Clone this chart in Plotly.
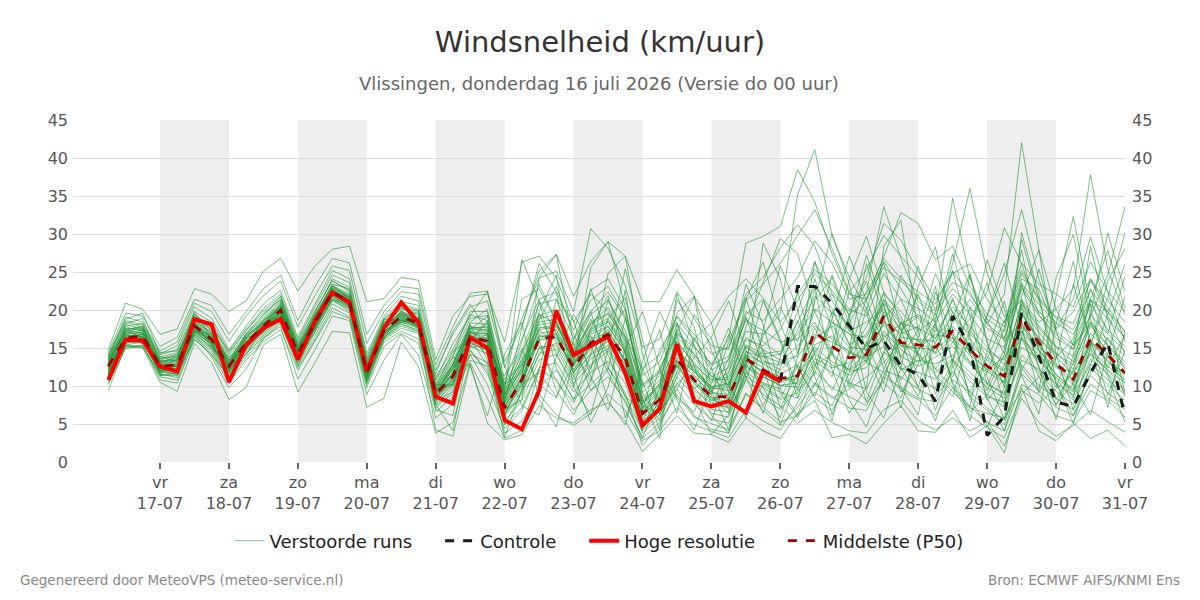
import pandas as pd
import plotly.graph_objects as go

# ---------------- data ----------------
tijden = pd.date_range("2026-07-16 06:00", periods=60, freq="6h")

hoge_resolutie = [10.8, 16.1, 16.0, 12.6, 11.9, 18.8, 18.1, 10.5, 15.4, 17.6,
                  18.8, 13.5, 18.6, 22.3, 21.0, 11.9, 17.6, 21.0, 18.4, 8.6,
                  7.7, 16.4, 15.0, 5.5, 4.3, 9.4, 19.9, 14.1, 15.3, 16.5,
                  11.7, 4.8, 7.0, 15.5, 8.0, 7.3, 8.0, 6.5, 11.9, 10.6]

controle = [None] * 39 + [10.6, 23.1, 23.1, 20.9, 17.9, 14.9, 16.0, 12.6, 11.5, 8.0,
                          19.2, 15.2, 3.5, 6.0, 19.6, 13.9, 7.9, 7.3, 11.7, 15.7, 6.0]

middelste = [12.6, 16.3, 16.6, 12.6, 12.8, 17.9, 16.1, 12.6, 15.7, 17.8,
             20.0, 14.3, 18.4, 22.4, 21.0, 11.8, 17.3, 19.1, 18.3, 8.9,
             11.3, 16.4, 15.9, 7.1, 10.8, 16.2, 16.5, 12.4, 15.7, 16.8,
             13.7, 6.4, 8.2, 13.5, 10.8, 8.6, 8.6, 13.6, 12.1, 11.0,
             11.3, 17.1, 15.2, 13.7, 14.1, 19.2, 15.7, 15.4, 15.1, 17.2,
             14.8, 12.6, 11.3, 18.9, 15.7, 13.0, 10.9, 16.3, 14.1, 11.7]

m01 = [13.5,18.2,18.9,13.1,13.8,19.5,17.2,13.4,16.9,19.2,21.8,15.1,19.6,24.1,23.0,13.2,18.4,20.3,19.8,9.6,
       12.8,17.9,17.2,8.3,12.5,18.9,19.4,14.1,18.2,20.3,16.1,7.9,10.2,15.8,13.1,10.4,11.8,17.2,16.8,19.5,
       35.2,41.1,29.8,24.3,20.1,26.4,22.8,18.9,16.2,21.3,17.4,13.8,12.1,19.6,16.3,14.2,12.8,18.5,15.3,12.7]
m02 = [10.2,14.9,15.3,11.2,10.8,16.4,14.5,10.9,13.8,16.1,18.2,12.4,16.1,20.3,19.1,10.2,15.8,17.2,16.2,7.1,
       9.4,14.2,13.1,5.3,8.1,13.4,14.2,10.3,12.8,14.6,11.2,4.1,6.3,11.2,8.7,6.4,5.9,11.3,9.8,8.2,
       9.1,13.2,11.8,10.4,9.6,14.5,12.3,11.8,10.9,13.4,11.2,8.9,7.2,14.1,11.8,9.3,7.6,12.4,10.2,8.1]
m03 = [14.8,20.9,20.1,16.8,17.5,22.8,22.1,19.8,21.2,25.1,26.8,22.5,25.8,28.0,28.4,21.1,21.5,24.3,23.9,13.5,
       19.2,21.8,22.1,15.8,26.3,27.1,24.2,18.4,22.1,19.8,16.5,12.3,14.1,19.2,16.8,14.2,15.1,21.2,23.4,26.1,
       29.8,33.2,28.1,22.4,25.3,29.8,27.1,24.3,20.1,23.6,22.4,18.1,16.3,24.1,22.8,17.2,15.4,21.3,19.8,16.2]
m04 = [11.8,15.6,16.1,12.1,12.2,17.2,15.4,11.8,15.1,17.1,19.2,13.6,17.8,21.6,20.2,11.1,16.8,18.4,17.6,8.1,
       10.1,15.6,14.8,6.2,9.4,15.1,15.3,11.2,14.3,15.9,12.8,5.4,7.3,12.6,9.8,7.2,7.4,12.5,11.2,10.1,
       10.4,21.2,24.3,18.2,13.1,11.8,9.4,8.2,6.1,9.8,7.3,5.2,4.1,10.2,8.9,6.1,5.3,9.4,8.1,5.9]
m05 = [9.4,15.2,15.0,10.5,9.3,15.6,13.1,8.2,9.8,15.4,16.8,9.2,13.1,17.2,17.0,7.2,8.4,15.8,12.6,3.8,
       5.2,13.1,8.4,3.1,4.2,9.8,12.1,8.3,10.2,12.4,9.1,2.2,4.8,9.6,6.1,4.3,3.8,8.9,7.2,5.3,
       6.1,9.2,7.4,12.8,15.3,18.9,21.4,16.2,12.3,9.8,6.1,4.5,3.2,8.9,11.2,13.8,16.2,24.1,19.3,14.2]
m06 = [13.1,17.4,17.8,13.4,14.1,18.9,17.4,13.9,16.8,18.9,21.2,15.3,19.4,23.2,22.1,12.9,18.1,20.4,19.2,10.1,
       13.2,18.3,18.1,9.2,13.4,19.2,20.1,15.3,19.8,22.4,18.9,10.2,12.1,17.4,14.2,11.3,10.1,15.2,13.4,12.1,
       14.3,19.8,22.1,17.3,15.2,22.4,19.1,14.3,12.2,15.8,13.1,10.2,9.1,16.4,13.2,11.1,9.2,14.3,12.1,10.4]
m07 = [12.2,16.8,17.1,12.9,13.2,18.2,16.4,12.1,15.9,17.6,19.4,14.1,18.1,22.1,21.4,11.5,17.5,19.4,18.9,8.4,
       11.8,16.1,16.4,7.8,11.6,17.3,15.8,12.9,17.1,18.4,14.9,7.2,9.4,14.8,12.1,9.3,8.2,14.5,13.8,14.2,
       18.4,23.1,20.2,15.4,16.8,21.3,17.2,15.9,14.3,19.8,16.3,12.8,10.4,20.3,17.1,14.3,12.2,17.9,15.3,13.2]
m08 = [14.2,18.8,19.6,14.2,15.3,20.4,18.9,14.8,17.9,20.8,22.6,16.4,20.8,25.2,24.1,14.3,19.2,21.8,21.2,11.2,
       14.8,19.4,18.6,10.2,14.6,20.8,21.4,16.2,21.3,23.1,19.2,9.8,11.8,18.2,15.3,12.1,13.4,18.6,17.3,15.8,
       16.2,18.4,14.3,12.1,13.4,17.2,14.8,13.1,15.2,18.3,21.4,18.2,22.1,42.0,27.9,20.1,15.3,18.2,14.1,10.3]
m09 = [11.2,16.0,16.2,11.8,11.9,17.5,15.6,11.6,14.9,17.4,19.6,13.2,17.4,21.8,20.4,10.6,16.6,18.6,17.8,7.8,
       10.4,15.1,15.3,6.4,10.2,16.1,16.9,11.6,15.4,16.2,12.4,5.1,6.9,12.9,9.4,7.8,7.1,12.8,10.3,9.2,
       8.4,12.8,14.1,11.9,12.4,16.8,13.9,12.6,13.8,15.2,12.9,10.4,8.8,15.1,13.6,10.8,8.1,13.5,11.6,9.2]
m10 = [12.9,17.0,16.9,13.0,13.5,18.4,16.8,13.1,16.2,18.4,20.8,14.8,19.1,22.9,21.6,12.4,17.8,19.6,18.6,9.3,
       12.1,17.2,16.8,8.8,12.1,17.8,17.4,13.4,16.8,17.9,14.5,7.1,9.1,14.2,11.8,9.6,9.8,14.6,12.9,11.6,
       12.8,16.2,17.9,15.1,14.8,19.8,16.4,16.1,15.9,17.8,15.4,13.4,11.9,19.4,16.2,13.8,11.5,16.9,14.8,12.3]
m11 = [10.8,15.4,15.8,11.6,11.1,16.8,13.8,9.8,12.2,16.4,17.8,10.9,14.8,19.2,18.6,8.9,13.4,16.8,14.1,5.8,
       7.6,14.1,10.2,4.4,6.8,12.1,10.9,6.8,9.4,11.2,8.1,3.1,5.2,8.9,5.9,5.1,4.2,9.1,6.8,4.8,
       7.2,10.4,8.6,7.1,6.8,11.2,9.8,8.4,7.9,10.8,9.2,7.1,5.6,11.6,9.4,7.2,6.1,10.3,8.4,6.9]
m12 = [13.8,19.1,18.4,14.6,15.8,20.9,19.8,15.9,19.2,21.9,23.8,17.8,21.9,25.8,25.2,15.6,19.8,22.4,22.1,12.1,
       16.8,20.4,21.2,12.4,18.9,24.2,25.1,19.8,30.7,28.1,23.2,15.1,16.2,22.4,18.9,15.3,14.8,22.1,24.3,28.2,
       31.2,28.4,22.1,19.8,24.3,31.4,29.2,25.1,21.3,24.8,26.1,21.4,18.3,25.2,21.6,19.1,18.2,23.8,21.3,18.4]
m13 = [12.4,16.5,16.8,12.4,12.6,17.8,15.9,12.4,15.5,17.5,19.9,14.0,18.2,22.2,20.8,11.7,17.1,18.9,18.1,8.7,
       11.1,16.8,15.4,7.3,10.6,16.4,16.9,12.1,15.2,17.4,13.1,6.1,8.4,13.2,10.3,8.1,8.8,13.9,11.5,10.4,
       11.6,15.1,13.2,12.2,14.4,18.1,15.2,14.9,16.8,16.3,13.2,11.9,10.4,17.8,15.2,12.6,10.1,15.9,13.4,11.1]
m14 = [11.5,15.9,15.6,12.3,12.0,16.9,15.1,12.2,14.6,16.8,18.9,13.6,17.2,21.2,20.1,11.2,16.4,18.1,17.4,8.2,
       10.6,15.8,14.6,6.8,9.8,14.9,15.6,11.9,14.1,15.3,12.9,6.2,8.9,13.8,11.9,9.8,10.2,15.1,13.9,13.1,
       15.3,17.9,16.2,14.1,17.8,22.1,19.8,17.2,18.9,26.1,36.0,24.8,19.1,21.3,18.4,20.1,22.8,37.8,25.3,19.4]
m15 = [13.4,17.9,18.2,13.6,13.9,19.1,17.9,14.2,17.4,19.6,21.4,15.8,19.9,23.8,22.6,13.4,18.6,20.8,20.1,10.4,
       13.8,18.9,19.3,9.6,14.1,19.4,18.2,14.6,18.4,19.6,15.8,8.1,10.1,15.9,12.8,10.8,11.2,16.4,14.8,13.4,
       13.9,16.8,15.8,14.6,13.2,18.4,16.9,17.8,14.2,16.4,14.1,12.2,13.8,17.2,14.6,12.4,11.9,15.8,13.2,11.6]
m16 = [12.0,16.2,16.4,12.2,12.4,17.6,15.8,12.9,16.1,17.9,20.1,14.6,18.6,22.6,21.2,12.2,17.9,19.2,18.4,9.1,
       12.4,17.1,16.2,9.8,21.4,22.8,18.4,13.1,16.2,17.8,14.6,5.2,7.8,16.4,14.2,11.2,12.4,18.9,15.8,14.1,
       19.8,26.4,21.3,17.2,18.4,20.1,17.4,19.2,17.1,20.4,17.8,15.1,12.8,21.1,17.9,15.2,13.9,19.4,16.8,14.6]
m17 = [10.4,15.1,15.4,10.8,10.4,16.1,14.2,10.4,13.4,15.8,17.4,12.1,15.9,19.8,18.9,9.8,15.2,16.9,15.6,6.6,
       8.6,13.4,12.6,4.9,7.2,12.4,13.1,9.2,11.8,13.2,10.4,3.8,5.8,10.4,7.6,5.6,5.1,10.8,8.9,7.4,
       5.1,6.8,5.2,4.1,3.8,6.9,8.1,5.4,4.2,5.8,4.1,5.3,2.1,8.4,5.2,3.4,4.8,6.8,5.3,3.9]
m18 = [13.2,17.6,17.4,13.8,14.4,18.6,17.1,13.6,16.5,18.8,20.6,15.4,19.2,23.4,22.8,13.0,18.3,20.1,19.6,9.8,
       12.9,17.6,17.8,8.4,13.1,18.4,18.8,14.9,19.4,21.2,17.3,9.1,11.4,17.1,13.8,10.9,10.8,16.1,15.3,17.4,
       22.1,25.3,23.4,20.1,19.2,24.8,21.4,20.2,18.4,22.1,19.4,16.2,15.1,22.8,19.3,16.8,14.9,20.8,17.4,15.1]
m19 = [11.6,16.4,16.0,12.5,12.9,17.4,16.0,12.6,15.8,17.2,19.5,13.9,18.0,21.9,20.6,11.4,16.9,18.8,18.0,8.5,
       10.9,16.3,15.6,7.6,11.2,16.6,16.2,12.6,15.8,16.6,13.4,6.8,8.1,13.4,10.6,8.4,7.9,13.2,11.9,11.3,
       10.2,14.3,18.4,16.9,13.8,15.2,12.1,13.4,12.9,14.1,11.8,9.8,8.4,16.2,14.1,11.6,9.4,14.8,12.6,10.8]
m20 = [12.7,16.9,17.4,12.8,13.4,18.1,16.6,12.8,15.6,18.1,20.4,14.4,18.8,22.8,21.8,12.1,17.6,19.8,18.7,9.0,
       11.6,16.9,16.6,7.9,11.9,17.6,18.1,13.8,17.6,18.9,15.4,7.8,9.9,14.9,12.4,9.8,9.4,14.1,13.1,12.8,
       17.4,21.8,19.6,18.3,22.4,33.6,26.8,21.1,19.4,34.7,24.2,18.6,14.2,23.1,19.8,17.4,19.8,24.1,20.3,17.1]
m21 = [11.0,15.3,15.1,11.4,11.4,16.6,14.8,11.1,14.2,16.6,18.6,12.8,16.6,20.8,19.6,10.4,16.1,17.6,16.9,7.5,
       8.9,14.6,12.1,3.8,5.4,8.9,6.2,4.8,6.4,8.9,6.8,2.8,4.1,7.2,4.9,4.1,3.2,6.8,5.4,4.2,
       7.8,11.9,9.8,8.6,7.4,12.1,11.2,9.6,8.4,11.9,8.6,6.8,4.9,12.8,10.1,8.4,6.9,11.4,9.1,7.4]
m22 = [14.0,18.4,17.8,14.1,14.8,19.8,18.4,14.4,17.2,20.2,22.1,16.1,20.4,24.6,23.6,13.9,18.9,21.1,20.6,10.8,
       14.1,19.8,19.8,10.8,16.2,21.4,22.4,17.4,22.6,24.1,20.1,11.4,13.2,19.1,16.1,12.8,13.9,19.8,18.6,21.4,
       24.3,29.1,26.2,21.4,22.1,26.8,24.1,22.4,20.8,25.1,21.9,18.8,17.2,24.8,21.3,18.9,17.4,22.6,19.8,17.2]
m23 = [12.3,16.6,16.5,12.7,12.9,17.9,16.3,12.7,15.8,17.9,20.2,14.5,18.5,22.5,21.2,11.9,17.4,19.3,18.5,9.0,
       11.4,16.6,16.1,7.4,11.1,16.9,17.3,12.7,16.1,17.1,14.1,6.9,8.6,13.6,11.2,9.1,8.9,13.8,12.4,10.8,
       11.4,14.2,12.8,11.4,13.1,16.4,18.2,19.4,17.6,15.8,18.9,22.4,30.8,26.1,19.4,16.3,14.8,19.2,24.6,33.6]
m24 = [10.6,15.6,16.3,11.5,11.6,16.2,14.1,11.4,14.4,16.3,18.4,13.1,17.1,21.4,19.8,10.8,16.2,17.9,17.1,7.6,
       9.8,15.3,14.2,6.1,8.9,14.3,14.8,10.8,13.6,14.9,11.8,4.6,6.8,11.9,9.1,6.9,6.6,11.8,10.4,9.6,
       12.8,10.2,8.4,9.6,11.2,13.1,15.8,14.2,11.4,9.2,7.1,6.4,5.8,9.4,7.8,9.6,11.8,14.2,12.1,9.4]
m25 = [13.6,17.2,17.6,13.2,13.6,19.2,17.6,13.2,16.4,18.6,21.1,15.1,19.3,23.1,21.9,12.6,17.9,20.2,19.4,9.5,
       12.6,17.4,17.4,8.9,12.8,18.1,18.4,14.2,18.1,19.4,16.4,8.4,10.8,16.9,15.1,12.9,16.2,28.8,29.7,31.0,
       38.5,34.2,27.4,22.1,21.4,25.6,23.8,21.6,19.8,22.8,20.4,17.6,16.1,23.4,20.8,18.3,16.8,21.4,18.8,16.4]
m26 = [12.5,16.1,16.3,12.5,12.3,17.7,15.7,12.3,15.3,17.6,19.7,14.2,18.3,22.1,20.9,11.6,17.2,18.9,18.2,8.6,
       11.0,16.2,15.2,7.0,10.4,16.0,16.4,12.2,15.4,16.5,13.6,6.1,8.0,13.3,10.7,8.5,8.4,13.4,11.9,10.8,
       10.9,15.4,16.6,14.4,13.6,18.6,15.3,15.1,14.6,16.8,14.4,12.1,11.1,18.1,15.4,12.8,10.6,15.9,13.8,11.5]
m27 = [14.4,19.6,19.2,15.2,16.4,21.4,20.6,16.8,19.8,22.8,24.6,18.6,23.1,26.8,26.2,16.8,20.6,23.1,22.8,12.8,
       17.8,22.2,22.5,13.2,17.9,25.1,27.3,21.8,26.4,29.0,27.1,21.1,21.1,25.3,21.8,18.3,21.8,24.1,21.6,18.4,
       21.3,24.8,22.6,19.4,21.3,27.1,32.8,31.4,26.6,28.4,23.1,19.4,17.8,26.2,23.4,22.1,20.4,26.3,22.4,19.8]
m28 = [11.4,15.8,15.9,11.9,11.6,17.1,14.9,11.9,14.8,17.0,18.8,13.4,17.6,21.4,20.3,10.9,16.4,18.2,17.2,4.2,
       3.4,12.9,5.1,2.9,3.6,7.4,5.8,5.1,6.9,7.8,5.4,1.4,3.6,6.1,3.8,3.6,2.6,5.8,4.1,3.1,
       6.4,8.1,3.2,3.6,2.4,5.1,7.4,4.1,3.9,6.8,3.2,4.8,1.2,9.8,4.1,2.8,5.1,3.1,4.2,2.1]
m29 = [13.0,17.3,17.0,13.3,13.3,18.5,16.9,13.3,16.6,18.3,20.6,14.9,18.9,22.7,21.4,12.3,17.7,19.7,18.8,9.4,
       12.3,17.0,16.9,8.1,12.4,17.4,17.9,13.6,17.4,18.6,15.1,7.6,9.6,14.6,12.1,9.9,10.4,15.4,14.2,14.6,
       16.8,20.1,18.4,16.8,16.4,20.9,18.2,17.6,16.3,19.1,16.9,14.6,13.4,20.8,17.6,15.1,13.2,18.3,16.1,13.9]
m30 = [11.9,16.6,16.7,12.0,12.1,17.3,15.3,12.0,15.0,17.3,19.3,13.8,17.9,22.0,20.7,11.3,16.7,18.7,17.9,8.3,
       10.8,15.9,15.9,7.2,10.9,16.6,16.6,11.8,14.9,16.4,13.2,5.8,7.6,12.9,10.4,8.2,7.6,12.9,11.2,10.1,
       9.8,13.6,12.4,13.1,15.6,21.4,18.6,13.9,11.8,13.6,10.6,8.6,7.9,13.4,12.2,10.3,8.8,12.9,10.8,8.9]
m31 = [12.1,17.8,17.2,12.9,12.6,18.8,16.9,12.2,16.3,18.2,20.4,14.8,18.9,23.1,21.6,12.8,16.2,19.9,18.8,10.2,
       10.2,18.4,20.1,9.4,26.6,21.3,12.4,8.1,14.2,24.8,27.1,14.3,6.2,11.8,19.4,16.2,9.1,21.4,26.3,18.2,
       12.4,8.6,15.2,24.1,29.7,22.3,13.4,9.8,18.6,27.4,19.1,10.2,14.8,29.3,21.4,13.1,8.4,19.6,30.1,22.4]
m32 = [13.3,16.9,16.1,13.6,14.2,17.6,15.8,13.8,15.2,17.6,20.9,13.9,18.6,21.9,21.8,11.2,18.4,18.3,19.1,7.6,
       4.1,16.1,18.6,6.8,8.2,24.3,27.3,15.6,9.4,12.1,22.6,8.4,3.1,17.2,21.8,9.4,4.2,12.3,28.8,24.1,
       14.2,22.8,12.1,6.4,9.8,28.4,31.8,17.2,8.9,13.2,24.6,16.1,7.4,21.8,27.9,14.2,6.8,15.2,23.8,28.1]
m33 = [11.3,17.4,17.9,11.4,11.8,18.4,15.2,11.2,15.6,18.4,19.2,14.1,17.6,22.8,20.4,12.1,16.8,19.4,17.4,9.6,
       13.8,12.6,6.1,14.2,18.4,8.2,4.6,13.4,22.8,16.2,5.8,11.9,17.4,8.1,4.2,10.3,16.8,11.2,6.4,13.8,
       22.4,14.1,6.2,11.8,20.3,13.4,7.1,16.4,23.1,12.8,5.4,14.6,21.2,11.4,6.3,18.2,26.4,15.1,7.2,17.3]
m34 = [12.8,16.1,16.9,12.2,13.1,17.1,16.4,13.4,15.1,17.4,19.8,15.2,18.2,22.4,21.1,11.9,17.1,19.2,18.1,9.2,
       11.8,17.2,15.8,5.6,4.2,12.1,21.4,18.6,11.2,6.8,14.9,19.8,12.4,6.4,16.2,18.3,10.4,5.8,17.4,25.8,
       20.1,11.2,5.4,14.8,26.1,19.3,9.8,6.2,17.8,25.2,16.4,8.1,10.9,20.6,12.4,5.6,14.2,28.4,18.6,9.1]
m35 = [14.1,17.1,17.8,13.9,13.2,19.8,16.2,12.8,16.8,18.1,20.6,13.6,19.1,23.4,21.3,11.6,17.8,19.6,18.4,8.1,
       9.2,16.2,14.1,3.2,9.6,19.8,24.6,11.4,5.2,9.8,18.9,10.6,4.2,18.1,12.6,6.1,3.8,13.4,21.2,15.8,
       8.4,16.2,24.6,19.1,9.2,5.8,12.4,23.1,28.3,17.2,8.4,4.6,9.8,30.2,22.1,10.4,5.1,12.8,19.4,26.1]
m36 = [11.1,16.4,15.6,11.8,12.9,16.8,15.1,12.6,14.1,17.9,20.2,12.6,17.9,21.4,20.8,10.6,16.4,18.4,18.6,6.9,
       6.1,17.4,19.2,8.8,13.6,16.1,9.4,6.2,10.8,18.9,21.6,12.1,8.2,21.4,17.8,8.6,6.4,14.1,9.8,5.8,
       13.8,26.3,19.2,10.4,8.1,14.2,24.6,20.4,11.2,8.6,16.8,26.6,20.1,12.4,9.4,21.8,32.3,20.4,11.6,7.2]
m37 = [13.9,15.8,16.4,12.8,12.2,18.6,17.8,12.4,16.9,19.4,21.4,14.6,19.4,22.1,20.6,12.6,18.8,18.6,18.9,9.9,
       14.6,16.1,12.8,11.4,14.8,10.2,8.4,16.1,19.8,12.4,8.6,4.1,9.8,22.1,15.4,7.2,12.8,23.4,18.1,9.6,
       6.2,12.4,19.8,15.6,7.8,10.6,18.4,14.1,6.8,13.2,20.4,11.2,5.6,16.4,25.4,17.3,10.1,6.2,14.3,21.8]
m38 = [12.6,17.6,16.2,13.4,12.6,18.1,15.6,11.6,15.9,17.1,19.6,14.9,18.1,22.9,21.9,11.4,17.6,19.9,17.6,10.8,
       15.6,19.2,22.5,12.6,7.4,6.2,13.8,19.4,15.6,8.1,4.9,13.2,19.8,15.1,8.6,5.4,11.8,19.1,12.6,4.9,
       10.8,21.4,30.1,23.4,14.1,9.2,16.8,25.8,18.2,10.4,7.2,19.4,26.2,17.8,9.1,13.6,23.4,16.1,8.8,14.6]
m39 = [10.9,16.1,16.8,12.3,11.4,17.6,16.6,12.9,15.4,18.6,20.1,14.2,17.6,22.6,21.2,12.3,16.9,18.6,18.2,8.4,
       12.4,15.2,16.9,7.9,17.6,26.1,22.4,9.8,6.2,14.8,25.4,16.2,6.8,9.6,13.8,16.4,21.2,14.8,8.4,6.9,
       9.6,14.8,11.2,19.4,23.8,16.1,9.2,12.8,22.4,16.4,8.6,11.8,17.6,27.9,16.8,8.2,12.1,21.4,15.4,8.6]
m40 = [13.7,18.6,18.1,14.4,14.6,19.4,17.8,14.6,17.6,19.9,21.8,15.6,19.8,23.9,22.4,13.6,18.8,20.6,19.9,11.6,
       17.2,20.8,17.1,9.1,15.8,23.4,18.6,12.8,25.6,29.0,20.4,7.6,10.4,19.6,21.8,14.6,9.8,17.8,23.6,29.4,
       27.4,19.8,14.6,18.9,27.2,20.6,13.8,17.4,24.8,19.6,14.3,19.2,24.8,33.2,24.1,17.6,21.4,29.6,22.4,15.8]
m41 = [12.0,15.4,15.2,11.6,12.8,17.4,15.4,12.3,15.8,17.9,19.1,14.4,17.8,21.8,20.4,11.8,17.2,18.4,17.8,9.6,
       10.1,16.6,14.6,10.4,12.9,15.4,10.6,7.8,12.4,16.9,11.6,5.1,12.4,16.8,8.4,3.6,6.2,11.6,14.8,9.1,
       5.8,10.2,14.6,8.1,4.6,11.4,16.2,9.8,5.4,12.6,15.8,8.4,4.1,12.1,16.2,10.4,6.1,11.8,16.4,12.2]
m42 = [13.1,18.1,17.5,13.1,13.9,18.3,16.4,13.1,16.4,18.6,20.2,15.1,18.9,22.6,21.6,12.8,17.4,19.4,18.7,9.1,
       12.8,18.1,13.4,6.1,11.4,21.2,16.8,13.8,18.8,14.1,8.6,6.8,14.8,18.4,11.4,8.9,15.8,21.6,14.4,7.1,
       11.8,17.6,14.1,22.4,19.6,12.2,16.8,22.1,15.3,11.2,17.4,23.6,15.8,18.4,13.4,24.2,29.9,18.8,12.4,16.8]
m43 = [11.7,16.7,16.5,12.6,11.8,17.9,16.1,12.1,15.1,17.1,19.8,13.6,18.4,22.4,20.9,11.2,17.6,19.1,18.4,8.9,
       11.7,17.8,16.9,4.9,9.2,14.1,17.9,14.8,10.6,16.9,20.1,9.1,5.4,11.2,16.4,12.4,6.9,10.8,16.6,20.4,
       15.8,24.1,17.4,9.8,14.6,20.8,12.4,8.6,15.6,21.6,14.2,9.4,14.2,23.6,14.6,9.8,15.8,22.8,16.9,24.4]
m44 = [12.3,16.2,17.4,12.0,13.6,17.2,16.8,12.6,15.4,18.2,19.6,14.2,18.3,22.1,21.1,11.4,17.0,19.0,17.8,9.4,
       11.2,15.9,18.4,10.2,11.8,18.6,23.1,16.8,12.2,21.4,16.6,10.1,11.8,8.4,6.6,12.4,17.6,12.2,7.4,12.4,
       18.6,12.8,9.4,14.2,21.6,26.2,17.4,11.2,9.6,18.8,24.8,15.6,9.8,17.2,12.6,7.4,13.1,21.4,27.8,20.2]
m45 = [12.9,17.2,16.4,12.4,12.6,18.4,16.2,12.8,16.2,17.4,20.4,14.6,18.6,22.6,21.4,12.0,17.4,19.6,18.4,8.8,
       12.9,17.6,17.8,8.6,14.4,19.6,14.2,9.8,17.6,21.9,14.1,7.4,6.4,10.2,12.8,9.2,13.6,19.4,21.4,16.2,
       9.4,11.6,18.9,27.1,21.2,15.4,10.8,14.6,19.6,13.4,9.2,13.6,18.6,21.4,14.8,11.4,9.6,15.4,21.6,30.2]
m46 = [11.6,16.3,16.0,11.9,12.3,17.1,15.6,11.9,14.9,17.7,19.9,13.8,17.9,22.2,20.6,11.5,17.2,18.7,18.0,8.6,
       10.6,14.8,11.6,6.6,10.2,11.8,8.6,12.8,16.6,11.8,7.8,3.2,8.6,12.6,9.6,11.8,8.4,6.2,10.2,8.4,
       12.6,8.4,6.8,10.6,15.8,10.4,8.4,14.6,18.2,10.2,6.6,8.8,12.8,16.4,11.2,7.6,10.4,15.6,11.2,5.2]

verstoorde_runs = [m01, m02, m03, m04, m05, m06, m07, m08, m09, m10,
                   m11, m12, m13, m14, m15, m16, m17, m18, m19, m20,
                   m21, m22, m23, m24, m25, m26, m27, m28, m29, m30,
                   m31, m32, m33, m34, m35, m36, m37, m38, m39, m40,
                   m41, m42, m43, m44, m45, m46]

tick_dagen = ["2026-07-17", "2026-07-18", "2026-07-19", "2026-07-20", "2026-07-21",
              "2026-07-22", "2026-07-23", "2026-07-24", "2026-07-25", "2026-07-26",
              "2026-07-27", "2026-07-28", "2026-07-29", "2026-07-30", "2026-07-31"]
tick_teksten = ["vr<br>17-07", "za<br>18-07", "zo<br>19-07", "ma<br>20-07", "di<br>21-07",
                "wo<br>22-07", "do<br>23-07", "vr<br>24-07", "za<br>25-07", "zo<br>26-07",
                "ma<br>27-07", "di<br>28-07", "wo<br>29-07", "do<br>30-07", "vr<br>31-07"]
gearceerde_dagen = ["2026-07-17", "2026-07-19", "2026-07-21", "2026-07-23",
                    "2026-07-25", "2026-07-27", "2026-07-29"]

# ---------------- figure ----------------
FONT = "DejaVu Sans"
PAD = "\u00a0" * 4
fig = go.Figure()

for k, run in enumerate(verstoorde_runs):
    fig.add_trace(go.Scatter(
        x=tijden, y=run, mode="lines",
        line=dict(color="rgba(35,150,55,0.6)", width=1),
        name="Verstoorde runs" + PAD, legendgroup="ens", showlegend=(k == 0),
        hoverinfo="skip"))

fig.add_trace(go.Scatter(x=tijden, y=controle, mode="lines",
                         line=dict(color="#1a1a1a", width=3, dash="dash"),
                         name="Controle" + PAD))
fig.add_trace(go.Scatter(x=tijden[:len(hoge_resolutie)], y=hoge_resolutie, mode="lines",
                         line=dict(color="#ff0000", width=4),
                         name="Hoge resolutie" + PAD))
fig.add_trace(go.Scatter(x=tijden, y=middelste, mode="lines",
                         line=dict(color="#a00000", width=2.8, dash="dash"),
                         name="Middelste (P50)"))
# invisible trace on right axis to show it
fig.add_trace(go.Scatter(x=[tijden[0]], y=[None], yaxis="y2", showlegend=False,
                         hoverinfo="skip"))

shapes = []
for d in gearceerde_dagen:
    d0 = pd.Timestamp(d)
    shapes.append(dict(type="rect", xref="x", yref="paper",
                       x0=d0, x1=d0 + pd.Timedelta(days=1), y0=0, y1=1,
                       fillcolor="#eeeeee", line=dict(width=0), layer="below"))

ph = 342.0
def py(p):
    return (462 - p) / ph

fig.update_layout(
    width=1200, height=600,
    margin=dict(l=73, r=75, t=120, b=138),
    paper_bgcolor="white", plot_bgcolor="white",
    font=dict(family=FONT, size=16, color="#555555"),
    shapes=shapes,
    title=dict(text="Windsnelheid (km/uur)", x=0.5, xanchor="center",
               y=1 - 42 / 600, yanchor="middle", yref="container",
               font=dict(family=FONT, size=29, color="#333333")),
    showlegend=True,
    legend=dict(orientation="h", x=0.5, xanchor="center", y=py(541), yanchor="middle",
                font=dict(family=FONT, size=18, color="#222222"),
                bgcolor="rgba(0,0,0,0)", itemwidth=30, tracegroupgap=0),
    xaxis=dict(type="date", range=["2026-07-15 17:43", "2026-07-31 00:00"],
               tickvals=tick_dagen, ticktext=tick_teksten,
               showgrid=False, zeroline=False, showline=False,
               ticks="outside", ticklen=6, tickcolor="#666666", tickwidth=2,
               tickfont=dict(family=FONT, size=16, color="#555555")),
    yaxis=dict(range=[0, 45], tickvals=list(range(0, 50, 5)),
               showgrid=True, gridcolor="#dddddd", gridwidth=1, zeroline=False,
               showline=False, ticks="", ticklabelstandoff=4,
               tickfont=dict(family=FONT, size=16, color="#555555")),
    yaxis2=dict(range=[0, 45], tickvals=list(range(0, 50, 5)), overlaying="y", side="right",
                showgrid=False, zeroline=False, showline=False, ticklabelstandoff=6,
                tickfont=dict(family=FONT, size=16, color="#555555")),
    annotations=[
        dict(text="Vlissingen, donderdag 16 juli 2026 (Versie do 00 uur)",
             xref="paper", yref="paper", x=0.5, y=py(84), xanchor="center", yanchor="middle",
             showarrow=False, font=dict(family=FONT, size=18, color="#666666")),
        dict(text="Gegenereerd door MeteoVPS (meteo-service.nl)",
             xref="paper", yref="paper", x=(18 - 73) / 1052.0, y=py(580),
             xanchor="left", yanchor="middle", showarrow=False,
             font=dict(family=FONT, size=13.5, color="#888888")),
        dict(text="Bron: ECMWF AIFS/KNMI Ens",
             xref="paper", yref="paper", x=(1182 - 73) / 1052.0, y=py(580),
             xanchor="right", yanchor="middle", showarrow=False,
             font=dict(family=FONT, size=13.5, color="#888888")),
    ],
)

fig.write_html("out.html")
